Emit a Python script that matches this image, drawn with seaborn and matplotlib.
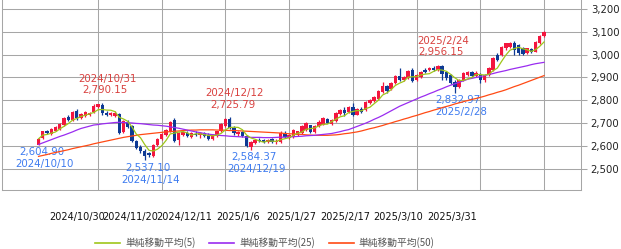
import numpy as np
import pandas as pd
import matplotlib
matplotlib.use("Agg")
import matplotlib.pyplot as plt
import seaborn as sns
from matplotlib.lines import Line2D
from matplotlib.font_manager import FontProperties

# ---------------- data ----------------
holidays = ["2025-01-01", "2025-01-02", "2025-01-03"]
dates = [d for d in pd.bdate_range("2024-10-10", "2025-03-31")
         if d not in set(pd.to_datetime(holidays))]

opens = [2606, 2634, 2664, 2652, 2668, 2674, 2692, 2729, 2714, 2752,
         2722, 2730, 2738, 2748, 2770, 2781, 2746, 2734, 2731, 2740,
         2663, 2707, 2688, 2620, 2598, 2580, 2568, 2558, 2606, 2630,
         2650, 2665, 2716, 2628, 2648, 2658, 2640, 2654, 2648, 2655,
         2650, 2630, 2645, 2666, 2686, 2718, 2680, 2652, 2660, 2642,
         2598, 2612, 2628, 2626, 2618, 2630, 2616, 2619, 2656, 2636,
         2641, 2650, 2658, 2670, 2690, 2662, 2686, 2694, 2717, 2696,
         2710, 2740, 2756, 2748, 2770, 2738, 2764, 2756, 2788, 2796,
         2806, 2838, 2863, 2850, 2874, 2907, 2889, 2896, 2933, 2889,
         2900, 2932, 2932, 2942, 2934, 2950, 2924, 2910, 2882, 2857,
         2889, 2911, 2922, 2905, 2912, 2889, 2911, 2932, 2998, 2998,
         3027, 3035, 3049, 3042, 3027, 3006, 3023, 3013, 3052, 3081]

highs = [2636, 2668, 2671, 2678, 2688, 2701, 2727, 2736, 2752, 2762,
         2746, 2755, 2751, 2782, 2786, 2790.15, 2752, 2749, 2752, 2746,
         2714, 2712, 2692, 2628, 2604, 2588, 2574, 2609, 2636, 2656,
         2676, 2710, 2722, 2660, 2668, 2664, 2662, 2668, 2660, 2662,
         2658, 2652, 2668, 2699, 2722, 2725.79, 2686, 2664, 2664, 2648,
         2624, 2632, 2636, 2632, 2630, 2636, 2630, 2664, 2668, 2652,
         2674, 2668, 2690, 2704, 2694, 2694, 2712, 2725, 2722, 2718,
         2748, 2762, 2770, 2776, 2790, 2768, 2770, 2798, 2806, 2820,
         2845, 2880, 2868, 2878, 2912, 2940, 2908, 2934, 2940, 2915,
         2930, 2942, 2946, 2948, 2956.15, 2954, 2930, 2916, 2888, 2892,
         2924, 2930, 2928, 2926, 2918, 2915, 2944, 2990, 3008, 3038,
         3052, 3054, 3058, 3048, 3032, 3030, 3030, 3060, 3085, 3104]

lows = [2604.90, 2630, 2652, 2648, 2664, 2670, 2688, 2710, 2711, 2716,
        2718, 2725, 2733, 2745, 2766, 2738, 2730, 2731, 2728, 2652,
        2658, 2680, 2616, 2586, 2571, 2537.10, 2553, 2552, 2602, 2626,
        2646, 2662, 2618, 2604, 2642, 2640, 2636, 2646, 2635, 2638,
        2626, 2626, 2640, 2662, 2682, 2674, 2650, 2646, 2638, 2596,
        2584.37, 2608, 2618, 2614, 2614, 2612, 2610, 2614, 2636, 2630,
        2637, 2645, 2654, 2666, 2655, 2658, 2682, 2690, 2699, 2690,
        2706, 2736, 2732, 2744, 2732, 2734, 2746, 2752, 2784, 2792,
        2802, 2834, 2834, 2846, 2870, 2884, 2885, 2892, 2878, 2885,
        2896, 2918, 2928, 2926, 2930, 2890, 2890, 2870, 2832.97, 2852,
        2886, 2906, 2902, 2900, 2876, 2880, 2906, 2928, 2972, 2994,
        3022, 3030, 3000, 3000, 2998, 3002, 3008, 3010, 3048, 3076]

closes = [2632, 2664, 2656, 2673, 2684, 2697, 2722, 2715, 2748, 2722,
          2740, 2749, 2746, 2777, 2782, 2745, 2736, 2744, 2746, 2658,
          2708, 2685, 2621, 2592, 2577, 2558, 2560, 2605, 2632, 2652,
          2672, 2705, 2622, 2655, 2662, 2645, 2656, 2650, 2655, 2642,
          2630, 2648, 2664, 2695, 2718, 2680, 2655, 2660, 2644, 2600,
          2618, 2627, 2622, 2618, 2626, 2616, 2620, 2659, 2640, 2648,
          2670, 2664, 2686, 2700, 2660, 2688, 2707, 2721, 2703, 2714,
          2743, 2758, 2745, 2772, 2738, 2764, 2750, 2794, 2802, 2816,
          2840, 2864, 2840, 2874, 2907, 2890, 2904, 2930, 2884, 2911,
          2925, 2922, 2940, 2934, 2950, 2915, 2896, 2874, 2857, 2889,
          2921, 2925, 2907, 2921, 2889, 2911, 2940, 2986, 2978, 3035,
          3049, 3049, 3020, 3006, 3003, 3027, 3013, 3057, 3081, 3098]

ma25 = [2607, 2614, 2621, 2628, 2635, 2642, 2648, 2655, 2662, 2670,
        2677, 2682, 2687, 2692, 2694, 2697, 2699, 2701, 2703, 2704,
        2703, 2702, 2701, 2699, 2698, 2696, 2694, 2692, 2691, 2689,
        2687, 2684, 2681, 2678, 2674, 2670, 2666, 2662, 2659, 2655,
        2652, 2650, 2648, 2646, 2645, 2643, 2642, 2641, 2640, 2639,
        2638, 2638, 2638, 2637, 2637, 2637, 2638, 2639, 2639, 2640,
        2641, 2642, 2643, 2645, 2646, 2647, 2649, 2651, 2653, 2655,
        2659, 2663, 2668, 2672, 2679, 2686, 2693, 2700, 2708, 2717,
        2725, 2734, 2744, 2754, 2764, 2774, 2782, 2790, 2798, 2806,
        2814, 2821, 2829, 2836, 2844, 2851, 2859, 2866, 2872, 2879,
        2885, 2892, 2896, 2900, 2904, 2908, 2913, 2917, 2922, 2926,
        2930, 2935, 2939, 2943, 2947, 2951, 2956, 2960, 2963, 2966]

ma50 = [2555, 2559, 2563, 2568, 2572, 2576, 2580, 2584, 2589, 2593,
        2597, 2601, 2605, 2610, 2614, 2618, 2622, 2626, 2630, 2634,
        2638, 2641, 2644, 2647, 2650, 2652, 2654, 2656, 2658, 2660,
        2662, 2663, 2665, 2666, 2668, 2669, 2670, 2670, 2671, 2671,
        2671, 2671, 2670, 2670, 2669, 2668, 2668, 2667, 2666, 2665,
        2664, 2663, 2662, 2661, 2660, 2659, 2658, 2657, 2655, 2654,
        2653, 2652, 2651, 2649, 2648, 2647, 2647, 2647, 2647, 2648,
        2649, 2651, 2654, 2656, 2659, 2662, 2666, 2671, 2676, 2680,
        2685, 2690, 2696, 2701, 2707, 2712, 2718, 2723, 2729, 2734,
        2740, 2746, 2751, 2757, 2762, 2768, 2773, 2778, 2784, 2789,
        2794, 2799, 2804, 2808, 2813, 2818, 2824, 2829, 2835, 2840,
        2846, 2853, 2860, 2866, 2873, 2880, 2887, 2894, 2901, 2908]

tick_dates = ["2024/10/30", "2024/11/20", "2024/12/11", "2025/1/6",
              "2025/1/27", "2025/2/17", "2025/3/10", "2025/3/31"]
y_ticks = [2500, 2600, 2700, 2800, 2900, 3000, 3100, 3200]

high_marks = [("2024/10/31", 2790.15), ("2024/12/12", 2725.79), ("2025/2/24", 2956.15)]
low_marks = [("2024/10/10", 2604.90), ("2024/11/14", 2537.10),
             ("2024/12/19", 2584.37), ("2025/2/28", 2832.97)]

legend_labels = ["単純移動平均(5)", "単純移動平均(25)", "単純移動平均(50)"]

# ---------------- styling ----------------
RED = "#f3163e"
BLUE = "#0e3a94"
C_MA5 = "#9fc61a"
C_MA25 = "#9a2cf0"
C_MA50 = "#ff4a14"
GRID = "#a6a6a6"
TXT_RED = "#d9413f"
TXT_BLUE = "#3f7cf0"

n = len(closes)
assert all(len(a) == n for a in (opens, highs, lows, ma25, ma50, dates))
idx = np.arange(n)
df = pd.DataFrame({"idx": idx, "open": opens, "high": highs, "low": lows,
                   "close": closes, "ma25": ma25, "ma50": ma50})
df["ma5"] = df["close"].rolling(5, min_periods=1).mean()
date_str = [f"{d.year}/{d.month}/{d.day}" for d in dates]
pos_of = {s: i for i, s in enumerate(date_str)}

W, H = 621, 249
fig = plt.figure(figsize=(W / 100, H / 100), dpi=100)
ax = fig.add_axes([2 / W, 1 - 190 / H, 579 / W, 190 / H])

# candles
o = df["open"].to_numpy(); c = df["close"].to_numpy()
cols = np.where(c >= o, RED, BLUE)
ax.vlines(idx, df["low"], df["high"], colors=cols, lw=0.9, zorder=2)
body = np.maximum(np.abs(c - o), 2.5)
ax.bar(idx, body, bottom=np.minimum(o, c), width=0.8, color=cols,
       linewidth=0, zorder=3)

# moving averages
for col, colr in (("ma50", C_MA50), ("ma25", C_MA25), ("ma5", C_MA5)):
    sns.lineplot(data=df, x="idx", y=col, color=colr, lw=0.9, ax=ax,
                 legend=False, zorder=4)

ax.set_xlim(-8.6, 127.7)
ax.set_ylim(2408, 3238.5)
ax.set_xlabel(""); ax.set_ylabel("")

tick_pos = [pos_of[t] for t in tick_dates]
ax.set_xticks(tick_pos)
ax.set_xticklabels([])
ax.tick_params(axis="x", length=0)
ax.set_yticks(y_ticks)
ax.yaxis.tick_right()
ax.yaxis.set_major_formatter(lambda v, p: f"{v:,.0f}")
ax.tick_params(axis="y", length=4.5, width=0.75, color=GRID, pad=2.5,
               labelsize=7.3, labelcolor="#222222")
ax.grid(True, color=GRID, lw=0.75, zorder=0)
ax.set_axisbelow(True)
for s in ("left", "right", "bottom"):
    ax.spines[s].set_color(GRID)
    ax.spines[s].set_linewidth(0.75)
ax.spines["top"].set_visible(False)

# x labels (placed on a twin axis as in the reference)
ax2 = ax.twiny()
ax2.set_xlim(-7.0, 155.1)
ax2.xaxis.set_ticks_position("bottom")
ax2.set_xticks(tick_pos)
ax2.set_xticklabels(tick_dates)
ax2.tick_params(axis="x", length=0, pad=16, labelsize=7.0, labelcolor="#111111")
for s in ax2.spines.values():
    s.set_visible(False)

# annotations
for d, v in high_marks:
    i = pos_of[d]
    ax.annotate(d, xy=(i, v), xytext=(5, 24), textcoords="offset pixels",
                ha="center", va="center", color=TXT_RED, fontsize=7.4)
    ax.annotate(f"{v:,.2f}", xy=(i, v), xytext=(3, 12.5), textcoords="offset pixels",
                ha="center", va="center", color=TXT_RED, fontsize=7.4)
for d, v in low_marks:
    i = pos_of[d]
    ax.annotate(f"{v:,.2f}", xy=(i, v), xytext=(3, -7.5), textcoords="offset pixels",
                ha="center", va="center", color=TXT_BLUE, fontsize=7.4)
    ax.annotate(d, xy=(i, v), xytext=(6, -19.5), textcoords="offset pixels",
                ha="center", va="center", color=TXT_BLUE, fontsize=7.4)

# legend
handles = [Line2D([], [], color=C_MA5, lw=1.2),
           Line2D([], [], color=C_MA25, lw=1.2),
           Line2D([], [], color=C_MA50, lw=1.2)]
fig.legend(handles, legend_labels, loc="center left",
           bbox_to_anchor=(95 / W, 1 - 243 / H), ncol=3, frameon=False,
           prop=FontProperties(family=["Noto Sans CJK JP", "DejaVu Sans"], size=7.0),
           handlelength=2.6, handletextpad=0.5, columnspacing=1.4,
           borderpad=0, borderaxespad=0, labelcolor="#555555")

fig.savefig("out.png", dpi=100)
